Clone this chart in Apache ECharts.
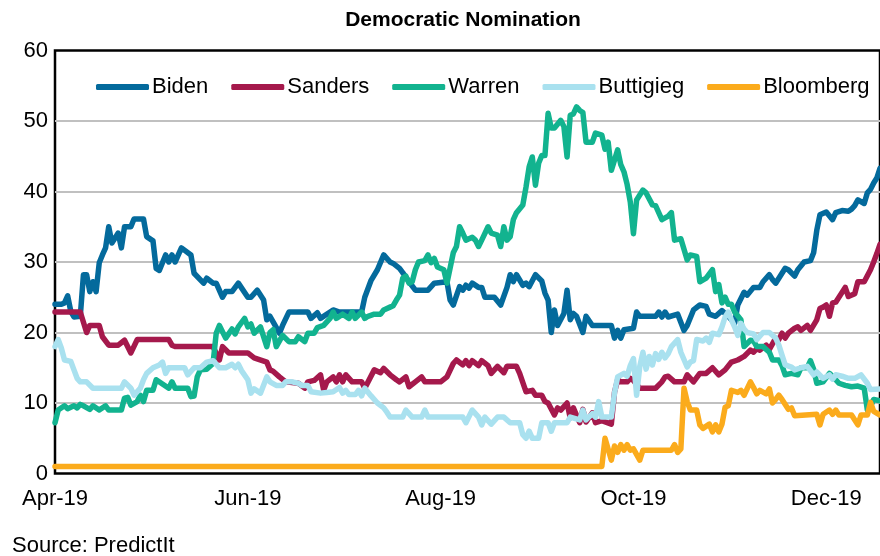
<!DOCTYPE html>
<html>
<head>
<meta charset="utf-8">
<script src="https://cdn.jsdelivr.net/npm/echarts@6/dist/echarts.min.js"></script>
<style>
  html, body { margin: 0; padding: 0; background: #fff; }
  #chart { width: 880px; height: 556px; }
</style>
</head>
<body>
<div id="chart"></div>
<script>
// x values are days counted from 1 Apr 2019
const tickLabels = ["Apr-19", "Jun-19", "Aug-19", "Oct-19", "Dec-19"];
const dayStep = 61;
const names = ["Biden", "Sanders", "Warren", "Buttigieg", "Bloomberg"];
const colors = ["#046a9c", "#a5194c", "#12b38f", "#a9e1ef", "#fbab1c"];

const biden = [[0,24],[2,24],[3,24.2],[4,25.2],[5,23],[6,22.2],[8,22.3],[9,28.2],[10,28.2],[11,25.8],[12,27.2],[13,25.8],[14,29.9],[15,31],[16,32],[17,35],[18,32.7],[20,34.1],[21,32],[22,35],[24,35],[25,36.1],[28,36.1],[29,33.6],[31,33],[32,29.1],[33,28.8],[35,31],[36,30],[37,31],[38,30],[40,32],[43,31],[44,28.4],[47,27],[48,27.7],[50,27],[51,27],[53,25],[54,25.8],[56,25.8],[58,27],[61,25],[62,25],[64,26],[66,24.6],[67,21.8],[68,22.3],[69,21.5],[71,19.9],[72,21],[74,22.9],[80,22.9],[81,22],[83,22.8],[84,22],[88,23.2],[90,22.9],[97,22.9],[98,25],[100,27.4],[102,28.9],[104,31],[106,30],[107,29.8],[109,29.1],[110,28.5],[112,27.2],[114,26],[118,26],[120,27],[124,27.2],[125,24.6],[126,23.9],[128,26.5],[129,26],[130,26.7],[131,26.3],[132,27],[134,26.4],[135,26.4],[136,25],[139,25],[141,23.9],[143,26.4],[144,28.2],[145,27.2],[146,28.2],[148,26.7],[149,27],[150,26.5],[152,28.2],[154,27.3],[155,25.6],[156,24.6],[157,20],[158,23.2],[159,21],[161,22.7],[162,26],[163,21.8],[164,22.7],[165,22.3],[167,20],[168,22.3],[170,21],[176,21],[177,19.2],[178,20.3],[179,19.2],[180,20.4],[183,20.6],[184,22.9],[185,22.3],[190,22.3],[191,22.9],[192,22.2],[193,22.9],[194,22.2],[197,22.6],[199,20.3],[200,21],[202,23.2],[204,23.9],[206,23.7],[207,22.6],[209,22.3],[211,23.1],[213,22.3],[215,21.3],[216,23.9],[218,25.7],[219,25.3],[221,26.4],[223,26.4],[224,27.2],[226,28.2],[227,27.5],[228,27],[231,29.1],[232,28.9],[234,28],[235,28.9],[237,30],[239,30.2],[240,31.3],[241,34.5],[242,36.7],[244,37.1],[246,36],[247,37],[249,37.3],[251,37.2],[252,37.5],[253,38],[254,38.8],[256,38.3],[257,39.8],[258,40.3],[259,41.2],[260,41.9],[261,43.3]];

const sanders = [[0,22.9],[8,22.9],[10,20],[11,21],[14,21],[15,19.4],[17,18.2],[20,18.2],[22,18.9],[24,17.1],[26,19],[36,19],[37,18.2],[38,18],[50,18],[52,16.1],[53,18],[55,17.1],[61,17.1],[63,16.4],[67,15.8],[68,14.7],[69,14.5],[71,13.7],[73,13],[77,12.8],[79,12.1],[80,13],[82,13.2],[84,14],[85,11.8],[86,13],[88,13.7],[89,13],[90,14],[91,13],[92,14],[94,13],[97,13],[98,12.1],[101,14.7],[103,14.3],[104,14.9],[106,14],[108,13.3],[109,13],[111,13.7],[112,12.3],[114,13],[116,13.7],[117,13],[122,13],[124,13.7],[126,15.6],[127,16.1],[129,15.4],[130,16],[131,15.3],[132,16],[134,15.3],[135,16],[137,15.3],[138,14.2],[140,15.2],[142,14.3],[143,15.2],[146,15.2],[147,14.2],[149,11.6],[151,11.8],[152,11.1],[154,11.1],[155,10.2],[156,10],[158,8.3],[159,9.3],[160,9],[162,10],[163,7.9],[164,9.3],[166,7.2],[167,9.1],[168,7.3],[170,8.6],[171,7.2],[173,7.5],[176,7],[177,11.5],[178,13.3],[179,13],[181,13],[182,13.5],[183,13.2],[185,12.1],[190,12.1],[192,13],[193,13.7],[194,13.8],[196,13],[199,13],[200,14],[202,13],[204,14.2],[206,14.2],[208,15],[210,14],[212,14.7],[214,15.8],[216,16.1],[218,16.6],[220,17.5],[221,17.2],[222,17.7],[223,17.5],[225,18.2],[226,17.6],[228,19.2],[229,19],[230,19.9],[231,19.2],[232,19.9],[234,20.6],[235,20.8],[236,20.3],[238,21],[239,20.3],[241,21.8],[242,23.4],[243,23.6],[244,23.9],[245,22.3],[246,24.2],[247,24.3],[250,26.4],[251,25.1],[253,25.5],[254,27.2],[256,27.2],[258,28.9],[259,30],[260,31.2],[261,32.5]];

const warren = [[0,7.2],[1,9],[3,9.6],[4,9.2],[6,9.6],[7,9.3],[8,9.8],[9,9.6],[11,9.1],[12,9.6],[14,9],[16,9.6],[17,9],[21,9],[22,10.7],[23,10.8],[24,9.7],[26,10.2],[27,11.1],[28,10.2],[29,11.8],[31,11.8],[32,13.3],[36,12.1],[37,13],[38,12.1],[42,12.1],[43,10.9],[44,11],[45,13.7],[46,14.7],[48,14.8],[50,15.6],[51,19.9],[52,21],[54,19.2],[56,20.5],[57,19.8],[58,20.8],[60,22],[61,20.8],[62,21.2],[63,19.9],[65,20.8],[67,18],[68,20],[69,20.4],[70,18],[72,19.6],[74,18.7],[76,18.7],[77,19.4],[79,18.7],[80,19.9],[82,19.9],[83,20.7],[85,21],[87,22],[88,22.9],[89,22],[91,22.6],[93,22],[94,22.9],[95,22],[97,22.9],[98,22],[99,22.3],[101,22.6],[103,22.6],[104,23.2],[106,23.6],[107,23.8],[108,24.6],[109,25.3],[110,27.7],[111,28],[112,27],[113,27.2],[114,28.9],[115,30],[117,30.2],[118,31],[119,29.9],[120,30.5],[121,29.3],[123,28.9],[124,27],[126,31.3],[127,32.2],[128,35],[129,34.1],[130,33.1],[132,33.5],[133,33.1],[134,32.2],[135,33.1],[137,35],[138,34.1],[140,33.8],[141,32.2],[142,35],[143,33.1],[144,33.6],[145,36],[146,37],[148,38.1],[149,40.6],[150,43.5],[151,44.9],[152,40.9],[153,44],[154,45.1],[155,45.1],[156,51.1],[157,49],[158,49],[160,50.1],[161,49.2],[162,44.9],[163,50.8],[164,51],[165,52],[166,51.5],[167,51.2],[168,47],[170,47],[171,48.3],[173,48],[174,46],[175,47],[176,43],[178,45.9],[179,43.8],[180,42.8],[181,41],[182,38.5],[183,34],[184,38.8],[185,39.5],[186,40.2],[187,39.8],[189,38.1],[190,38],[192,36],[194,36.5],[195,37],[196,33.1],[198,33.3],[200,30.3],[201,31],[203,30.8],[204,27.2],[206,27.7],[208,28.9],[209,25.8],[210,26.8],[211,24.2],[212,25],[213,24],[214,24],[215,22.9],[217,21.8],[218,18],[220,18.9],[221,18.8],[222,18],[224,18],[226,17.2],[227,16.1],[229,16.1],[230,15.3],[231,14],[233,14.2],[235,14],[236,15],[238,15],[239,16],[240,14.8],[241,12.8],[243,13],[245,14.2],[246,13.8],[248,12.8],[250,12.5],[252,12.3],[254,12.4],[256,12.1],[257,9],[258,9.5],[259,10.5],[261,10.3]];

const buttigieg = [[0,18],[1,19],[2,17.8],[3,16.1],[5,15.9],[6,14.7],[7,13.5],[8,13],[10,13],[12,12.1],[21,12.1],[22,13],[24,12.1],[25,11.1],[27,12.1],[28,13.3],[29,14.2],[31,15],[33,15.4],[34,15.8],[35,14.2],[36,15],[41,15],[42,14],[44,15],[46,15],[48,15.8],[50,16],[52,15],[54,15],[56,15.5],[57,15],[58,15.5],[59,14.6],[61,13.3],[62,11.4],[63,12],[65,11.4],[67,13.7],[68,13],[70,12.5],[72,12.5],[73,13],[75,13],[77,12.8],[78,12.5],[80,12.5],[81,11.6],[84,11.4],[86,11.5],[88,11.6],[90,12.2],[91,11.4],[92,11.8],[93,11.2],[95,11.2],[96,11.8],[97,11],[98,12.1],[100,11],[102,10],[104,9.3],[105,8.7],[106,8],[110,8],[111,9],[113,8],[116,8],[117,9],[118,8],[129,8],[130,7.2],[132,9],[134,8],[135,6.9],[136,8],[138,7],[140,8],[142,8],[144,7.2],[147,7.2],[148,5.5],[149,5],[150,6],[151,5],[153,5],[154,7.2],[156,7.2],[157,6],[158,7.2],[162,7.2],[163,8],[166,7.6],[167,9],[168,7.6],[170,8.5],[171,8],[172,10.2],[173,8],[176,8],[177,11.4],[178,13.7],[180,14.2],[181,13.8],[182,15.3],[183,16.3],[184,11.1],[185,15.2],[186,17.2],[187,14.8],[188,16.6],[189,15.4],[190,17],[191,16.2],[192,17.2],[193,16.4],[194,17],[195,18],[196,18.5],[197,19],[198,17.2],[200,15.1],[201,15.8],[202,16],[203,19],[205,18.8],[206,19.2],[207,18.6],[208,19.9],[210,19.7],[211,20.8],[212,22.2],[213,22.9],[214,21.8],[215,20.8],[216,19.6],[217,21.3],[218,20.5],[219,20],[221,19.8],[222,19],[224,20],[226,20],[228,19.2],[229,18.2],[230,16.8],[231,15.4],[233,15.1],[234,14.7],[236,15],[238,15.2],[240,14],[241,14.4],[243,13.5],[245,14],[246,13.4],[247,14],[249,13.8],[251,13.5],[253,13.5],[255,14],[257,12.8],[258,11.9],[261,12]];

const bloomberg = [[0,1],[173,1],[174,5],[176,1.9],[177,3.9],[178,3],[179,4.1],[180,3.3],[181,4.1],[182,3.3],[183,3.5],[185,1.9],[186,3.3],[195,3.3],[196,4.1],[197,3],[198,3.5],[199,12.1],[200,10.2],[201,9],[203,9],[204,6.9],[205,6.4],[207,7],[208,5.9],[209,6.9],[210,5.9],[211,7],[212,9.4],[213,9.6],[214,11.8],[216,11.5],[217,11.8],[218,11.1],[220,13],[221,12.2],[222,11.3],[223,11.8],[225,11.3],[226,12],[227,10],[228,10.5],[229,11.1],[230,10.5],[232,9.1],[233,9.3],[234,8.2],[241,8.4],[242,6.9],[243,8.4],[245,9],[246,8.4],[247,9],[248,8.3],[252,8.3],[254,6.9],[255,8.3],[257,8.3],[258,10.1],[259,8.8],[261,8.3]];

const seriesData = [biden, sanders, warren, buttigieg, bloomberg];
const font = "Liberation Sans";

let myChart = echarts.init(document.getElementById("chart"));
let option = {
  animation: false,
  backgroundColor: "#fff",
  color: colors,
  title: {
    text: "Democratic Nomination",
    left: 458,
    textAlign: "center",
    top: 5,
    textStyle: { fontFamily: font, fontSize: 21, fontWeight: "bold", color: "#000" },
  },
  legend: {
    data: names,
    left: 91,
    top: 71,
    icon: "roundRect",
    itemWidth: 53,
    itemHeight: 6,
    itemGap: 23,
    textStyle: { fontFamily: font, fontSize: 22, color: "#000", padding: [0, 0, 0, -2] },
  },
  grid: {
    left: 55,
    top: 50.5,
    right: -3,
    bottom: 82.5,
    show: true,
    borderColor: "#000",
    borderWidth: 2.5,
  },
  xAxis: {
    type: "value",
    min: 0,
    max: 261,
    interval: dayStep,
    axisLine: { show: false },
    axisTick: { show: false },
    splitLine: { show: false },
    axisLabel: {
      margin: 14,
      fontFamily: font,
      fontSize: 22,
      color: "#000",
      showMaxLabel: false,
      formatter: function (v) {
        let i = v / dayStep;
        return Number.isInteger(i) ? tickLabels[i] || "" : "";
      },
    },
  },
  yAxis: {
    type: "value",
    min: 0,
    max: 60,
    interval: 10,
    axisLine: { show: false },
    axisTick: { show: false },
    splitLine: {
      show: true,
      showMinLine: false,
      showMaxLine: false,
      lineStyle: { color: "#c0c0c0", width: 2 },
    },
    axisLabel: { margin: 7, fontFamily: font, fontSize: 22, color: "#000" },
  },
  graphic: [
    {
      type: "text",
      left: 12,
      top: 535,
      style: { text: "Source: PredictIt", font: "22px " + font, fill: "#000" },
    },
  ],
  series: names.map(function (name, k) {
    return {
      name: name,
      type: "line",
      showSymbol: false,
      symbol: "none",
      data: seriesData[k],
      lineStyle: { width: 5.5, color: colors[k], cap: "round", join: "round" },
      z: 2 + k,
    };
  }),
};
myChart.setOption(option);
</script>
</body>
</html>
